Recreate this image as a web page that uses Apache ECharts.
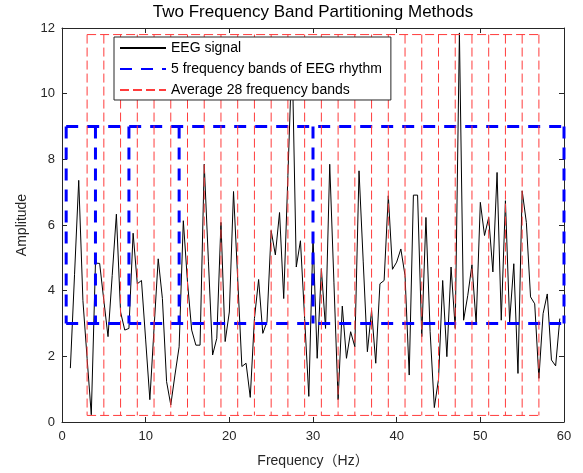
<!DOCTYPE html>
<html><head><meta charset="utf-8">
<script src="https://cdn.jsdelivr.net/npm/echarts@6/dist/echarts.min.js"></script>
<style>html,body{margin:0;padding:0;background:#fff}#c{width:583px;height:473px}</style>
</head><body><div id="c"></div>
<script>
const freq = [1,1.5,2,2.5,3,3.5,4,4.5,5,5.5,6,6.5,7,7.5,8,8.5,9,9.5,10,10.5,
  11,11.5,12,12.5,13,13.5,14,14.5,15,15.5,16,16.5,17,17.5,18,18.5,19,19.5,20,20.5,
  21,21.5,22,22.5,23,23.5,24,24.5,25,25.5,26,26.5,27,27.5,28,28.5,29,29.5,30,30.5,
  31,31.5,32,32.5,33,33.5,34,34.5,35,35.5,36,36.5,37,37.5,38,38.5,39,39.5,40,40.5,
  41,41.5,42,42.5,43,43.5,44,44.5,45,45.5,46,46.5,47,47.5,48,48.5,49,49.5,50,50.5,
  51,51.5,52,52.5,53,53.5,54,54.5,55,55.5,56,56.5,57,57.5,58,58.5,59,59.5];
const amplitude = [1.64,4.5,7.36,3.7,1.94,0.22,4.84,4.83,3.7,2.6,
  4.46,6.33,3.35,2.8,2.85,5.75,4.21,4.31,2.5,0.68,
  2.85,4.97,3.76,1.23,0.52,1.43,2.29,6.13,4.26,2.8,
  2.34,2.34,7.85,4.9,2.04,2.55,6.08,2.45,3.35,7.02,
  4.36,1.69,1.79,0.75,3.15,4.34,2.7,3.05,5.83,5.09,
  6.38,3.76,7.5,11.3,4.72,5.52,3.15,0.78,5.68,1.94,
  4.67,2.85,7.85,4.26,0.68,3.53,1.94,2.75,2.29,7.65,
  4.9,2.14,3.4,1.79,4.21,4.31,6.89,4.65,4.87,5.27,
  4.46,1.43,6.91,6.91,2.6,6.23,2.75,0.44,1.3,4.31,
  1.99,4.72,2.85,11.85,3.1,3.86,4.79,3.0,6.69,5.68,
  6.23,4.57,7.6,3.1,6.74,3.05,4.82,1.48,7.04,6.08,
  3.81,3.6,1.33,3.3,3.9,1.89,1.71,3.15];
const rhythmEdges = [0.5, 4, 8, 14, 30, 60];
const rhythmRange = [3, 9];
const avgEdges = [3,5,7,9,11,13,15,17,19,21,23,25,27,29,31,33,35,37,39,41,43,45,47,49,51,53,55,57];
const avgRange = [0.2, 11.8];
const xTicks = [0, 10, 20, 30, 40, 50, 60];
const yTicks = [0, 2, 4, 6, 8, 10, 12];

const NAME_EEG = 'EEG signal';
const NAME_RHY = '5 frequency bands of EEG rhythm';
const NAME_AVG = 'Average 28 frequency bands';
const FONT = '"Liberation Sans", Arial, "Noto Sans CJK SC", sans-serif';
const AX = '#262626';

function bandSeries(name, edges, range, style, z) {
  const out = [];
  const lo = range[0], hi = range[1];
  const first = edges[0], last = edges[edges.length - 1];
  const mk = (data) => ({
    name, type: 'line', data, symbol: 'none', showSymbol: false,
    lineStyle: style, itemStyle: { color: style.color }, z, clip: false,
    silent: true, animation: false
  });
  out.push(mk([[first, hi], [last, hi]]));
  out.push(mk([[first, lo], [last, lo]]));
  edges.forEach(e => out.push(mk([[e, hi], [e, lo]])));
  return out;
}

const series = [{
  name: NAME_EEG, type: 'line', data: freq.map((f, i) => [f, amplitude[i]]),
  symbol: 'none', showSymbol: false, lineStyle: { color: '#000', width: 1 },
  itemStyle: { color: '#000' }, z: 2, animation: false
}].concat(
  bandSeries(NAME_RHY, rhythmEdges, rhythmRange, { color: '#0000ff', width: 3, type: [12, 9] }, 3),
  bandSeries(NAME_AVG, avgEdges, avgRange, { color: 'rgb(255,60,60)', width: 1, type: [9, 4] }, 4)
);

function xAx(pos, showLabel) {
  return {
    type: 'value', min: xTicks[0], max: xTicks[xTicks.length - 1], interval: xTicks[1] - xTicks[0],
    position: pos,
    axisLine: { show: true, onZero: false, lineStyle: { color: AX, width: 1 } },
    axisTick: { show: true, inside: true, length: 5, lineStyle: { color: AX } },
    axisLabel: { show: showLabel, color: AX, fontSize: 13, margin: 8, fontFamily: FONT },
    splitLine: { show: false },
    name: showLabel ? 'Frequency（Hz）' : '', nameLocation: 'middle', nameGap: 32,
    nameTextStyle: { color: AX, fontSize: 14, fontFamily: FONT }
  };
}
function yAx(pos, showLabel) {
  return {
    type: 'value', min: yTicks[0], max: yTicks[yTicks.length - 1], interval: yTicks[1] - yTicks[0],
    position: pos,
    axisLine: { show: true, onZero: false, lineStyle: { color: AX, width: 1 } },
    axisTick: { show: true, inside: true, length: 5, lineStyle: { color: AX } },
    axisLabel: { show: showLabel, color: AX, fontSize: 13, margin: 7, fontFamily: FONT },
    splitLine: { show: false },
    name: showLabel ? 'Amplitude' : '', nameLocation: 'middle', nameGap: 31, nameRotate: 90,
    nameTextStyle: { color: AX, fontSize: 14, fontFamily: FONT }
  };
}

const chart = echarts.init(document.getElementById('c'), null, { renderer: 'canvas' });
chart.setOption({
  animation: false,
  backgroundColor: '#fff',
  title: {
    text: 'Two Frequency Band Partitioning Methods', left: 313, top: 4, textAlign: 'center',
    padding: 0,
    textStyle: { color: '#000', fontSize: 17, fontWeight: 'normal', fontFamily: FONT }
  },
  grid: { left: 62, right: 19, top: 28, bottom: 49, containLabel: false },
  xAxis: [xAx('bottom', true), xAx('top', false)],
  yAxis: [yAx('left', true), yAx('right', false)],
  legend: {
    data: [NAME_EEG, NAME_RHY, NAME_AVG],
    orient: 'vertical', left: 114, top: 37,
    itemWidth: 46, itemHeight: 14, itemGap: 7,
    padding: [4, 9, 3, 5],
    borderColor: AX, borderWidth: 1, backgroundColor: '#fff', borderRadius: 0,
    itemStyle: { opacity: 0 },
    textStyle: { color: '#000', fontSize: 14, fontFamily: FONT },
    selectedMode: false, z: 10
  },
  series
});
</script></body></html>
